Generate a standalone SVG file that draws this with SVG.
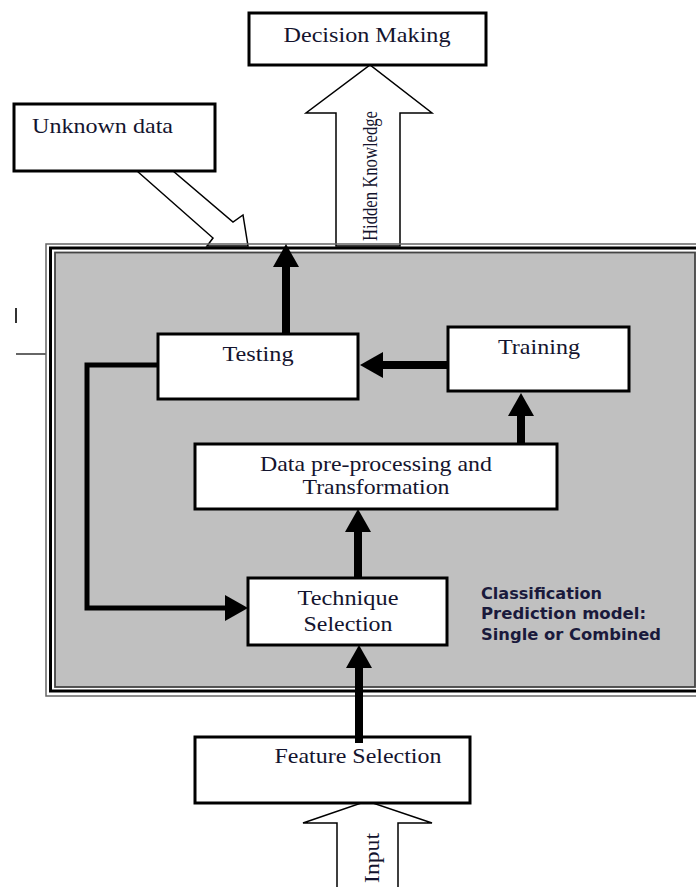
<svg xmlns="http://www.w3.org/2000/svg" width="696" height="887" viewBox="0 0 696 887">
<defs>
<style>
.box{fill:#fff;stroke:#000;stroke-width:3}
.t{font-family:"Liberation Serif","Times New Roman",serif;font-size:22px;fill:#14142e}
.c{stroke:#000;stroke-width:8;fill:none}
.fb{stroke:#000;stroke-width:5;fill:none}
.blk{fill:#fff;stroke:#000;stroke-width:1.5}
.cls{font-family:"DejaVu Sans",sans-serif;font-weight:bold;font-size:15.5px;fill:#1a1a3c}
</style>
<marker id="ah" markerUnits="userSpaceOnUse" markerWidth="23" markerHeight="26" viewBox="0 0 23 26" refX="0" refY="13" orient="auto">
<path d="M0,0 L23,13 L0,26 z" fill="#000"/>
</marker>
</defs>
<rect width="696" height="887" fill="#fff"/>

<g id="unknown-arrow">
<polygon class="blk" points="137,171 213,238 207,246 248,246 243,215 233,222 173,171"/>
</g>
<g id="hidden-knowledge-arrow">
<polygon class="blk" points="336,246 336,113 306,113 370,65 432,113 400,113 400,246"/>
<text class="t" font-size="18" transform="translate(377,176) rotate(-90)" text-anchor="middle" textLength="130" lengthAdjust="spacingAndGlyphs">Hidden Knowledge</text>
</g>
<g id="input-arrow">
<polygon class="blk" points="337,890 337,823 303,823 367,801 432,823 398,823 398,890"/>
<text class="t" transform="translate(379,858) rotate(-90)" text-anchor="middle" textLength="50" lengthAdjust="spacingAndGlyphs">Input</text>
</g>

<g id="left-marks">
<line x1="16" y1="308" x2="16" y2="323" stroke="#333" stroke-width="2"/>
<line x1="16" y1="354" x2="46" y2="354" stroke="#333" stroke-width="1.5"/>
</g>

<g id="container">
<rect x="46" y="244" width="670" height="452" fill="none" stroke="#666" stroke-width="1.5"/>
<rect x="50.5" y="248" width="660" height="443" fill="none" stroke="#000" stroke-width="3"/>
<rect x="55" y="252.5" width="640" height="434.5" fill="#c0c0c0" stroke="#444" stroke-width="1.8"/>
</g>

<g id="decision-making">
<rect class="box" x="249" y="13" width="237" height="52"/>
<text class="t" x="367" y="42" text-anchor="middle" textLength="167" lengthAdjust="spacingAndGlyphs">Decision Making</text>
</g>
<g id="unknown-data">
<rect class="box" x="14" y="104" width="201" height="67"/>
<text class="t" x="32" y="133" textLength="141" lengthAdjust="spacingAndGlyphs">Unknown data</text>
</g>
<g id="testing">
<rect class="box" x="158" y="334" width="200" height="65"/>
<text class="t" x="258" y="361" text-anchor="middle" textLength="71" lengthAdjust="spacingAndGlyphs">Testing</text>
</g>
<g id="training">
<rect class="box" x="448" y="327" width="181" height="64"/>
<text class="t" x="539" y="354" text-anchor="middle" textLength="82" lengthAdjust="spacingAndGlyphs">Training</text>
</g>
<g id="data-preprocessing">
<rect class="box" x="195" y="444" width="362" height="65"/>
<text class="t" x="376" y="471" text-anchor="middle" textLength="232" lengthAdjust="spacingAndGlyphs">Data pre-processing and</text>
<text class="t" x="376" y="494" text-anchor="middle" textLength="147" lengthAdjust="spacingAndGlyphs">Transformation</text>
</g>
<g id="technique-selection">
<rect class="box" x="248" y="578" width="199" height="67"/>
<text class="t" x="348" y="605" text-anchor="middle" textLength="101" lengthAdjust="spacingAndGlyphs">Technique</text>
<text class="t" x="348" y="631" text-anchor="middle" textLength="89" lengthAdjust="spacingAndGlyphs">Selection</text>
</g>
<g id="classification-note">
<text class="cls" x="481" y="599" textLength="121" lengthAdjust="spacingAndGlyphs">Classification</text>
<text class="cls" x="481" y="619" textLength="165" lengthAdjust="spacingAndGlyphs">Prediction model:</text>
<text class="cls" x="481" y="640" textLength="180" lengthAdjust="spacingAndGlyphs">Single or Combined</text>
</g>
<g id="feature-selection">
<rect class="box" x="195" y="737" width="275" height="66"/>
<text class="t" x="358" y="763" text-anchor="middle" textLength="167" lengthAdjust="spacingAndGlyphs">Feature Selection</text>
</g>

<g id="connectors">
<line class="c" x1="286" y1="334" x2="286" y2="267" marker-end="url(#ah)"/>
<line class="c" x1="448" y1="365" x2="383" y2="365" marker-end="url(#ah)"/>
<line class="c" x1="521" y1="444" x2="521" y2="416" marker-end="url(#ah)"/>
<line class="c" x1="358" y1="578" x2="358" y2="532" marker-end="url(#ah)"/>
<line class="c" x1="359" y1="743" x2="359" y2="668" marker-end="url(#ah)"/>
<path class="fb" d="M158,365 H87 V608 H225" marker-end="url(#ah)"/>
</g>
</svg>
